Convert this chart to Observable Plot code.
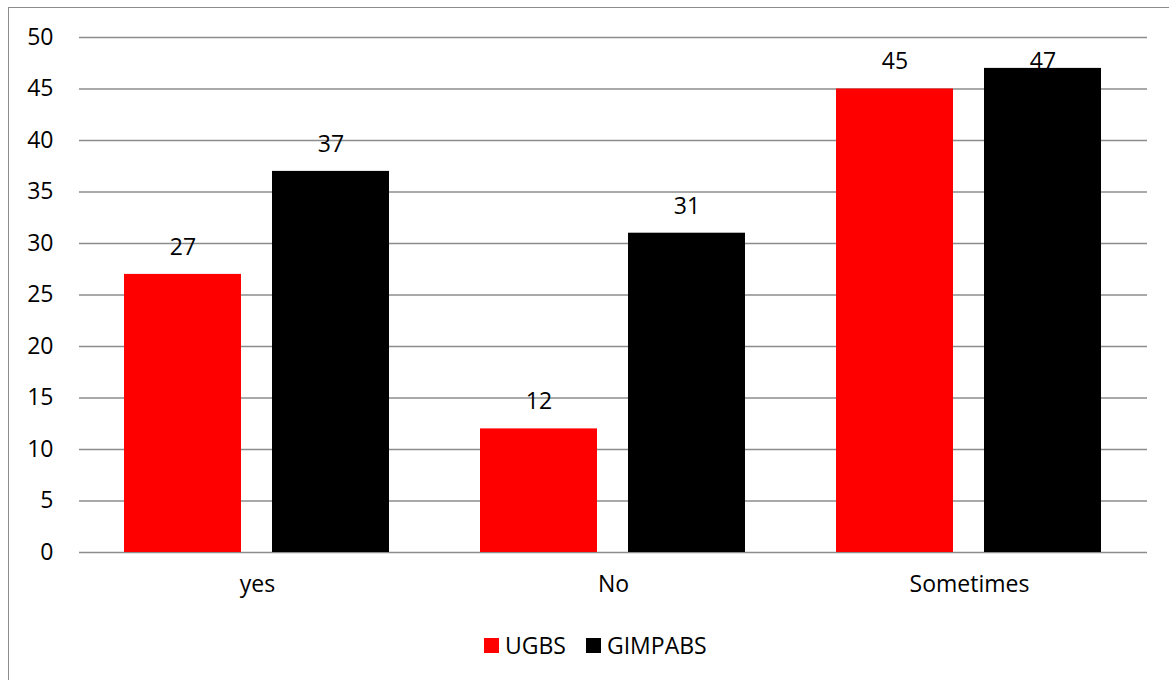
<!DOCTYPE html>
<html>
<head>
<meta charset="utf-8">
<script src="https://cdn.jsdelivr.net/npm/d3@7"></script>
<script src="https://cdn.jsdelivr.net/npm/@observablehq/plot@0.6"></script>
<style>
  html, body { margin: 0; padding: 0; background: #fff; overflow: hidden; }
  body { width: 1169px; height: 680px; position: relative; font-family: "Open Sans", sans-serif; }
  #frame { position: absolute; left: 8px; top: 7px; width: 1300px; height: 800px;
           border-left: 1.3px solid #8c8c8c; border-top: 1.3px solid #8c8c8c; box-sizing: border-box; }
  #chart { position: absolute; left: 0; top: 0; }
  #legend { position: absolute; left: 484px; top: 629px; display: flex; align-items: center;
            font-size: 23px; color: #000; }
  .item { display: flex; align-items: center; margin-right: 20px; }
  .sw { width: 15px; height: 15px; margin-right: 6px; }
</style>
</head>
<body>
<div id="frame"></div>
<div id="chart"></div>
<div id="legend"></div>
<script>
const categories = ["yes", "No", "Sometimes"];
const seriesNames = ["UGBS", "GIMPABS"];
const ugbs = [27, 12, 45];
const gimpabs = [37, 31, 47];
const seriesColors = ["#ff0000", "#000000"];
const yTicks = [0, 5, 10, 15, 20, 25, 30, 35, 40, 45, 50];
const labelCeiling = 45; // labels clamped inside the plot area, as in the original

const rows = [];
categories.forEach((c, i) => {
  rows.push({category: c, series: seriesNames[0], value: ugbs[i]});
  rows.push({category: c, series: seriesNames[1], value: gimpabs[i]});
});

const chart = Plot.plot({
  width: 1169,
  height: 602,
  marginLeft: 78,
  marginRight: 21,
  marginTop: 37,
  marginBottom: 50,
  style: {fontFamily: "Open Sans, sans-serif", fontSize: "23px", color: "#000", background: "transparent"},
  fx: {domain: categories, padding: 0, label: null, axis: "bottom", tickSize: 0, tickPadding: 23},
  x: {domain: seriesNames, paddingInner: 0.208, paddingOuter: 0.3, axis: null},
  y: {domain: [0, 50], ticks: yTicks, label: null, tickSize: 0, tickPadding: 26},
  color: {domain: seriesNames, range: seriesColors},
  marks: [
    Plot.ruleY(yTicks, {stroke: "#8c8c8c", strokeWidth: 1.3}),
    Plot.barY(rows, {fx: "category", x: "series", y: "value", fill: "series"}),
    Plot.text(rows, {fx: "category", x: "series", y: d => Math.min(d.value, labelCeiling),
      text: d => String(d.value), dy: -27, fontSize: 23, fill: "#000"})
  ]
});
document.getElementById("chart").appendChild(chart);

const legend = document.getElementById("legend");
seriesNames.forEach((s, i) => {
  const it = document.createElement("div");
  it.className = "item";
  const sw = document.createElement("div");
  sw.className = "sw";
  sw.style.background = seriesColors[i];
  const t = document.createElement("span");
  t.textContent = s;
  it.appendChild(sw); it.appendChild(t);
  legend.appendChild(it);
});
</script>
</body>
</html>
